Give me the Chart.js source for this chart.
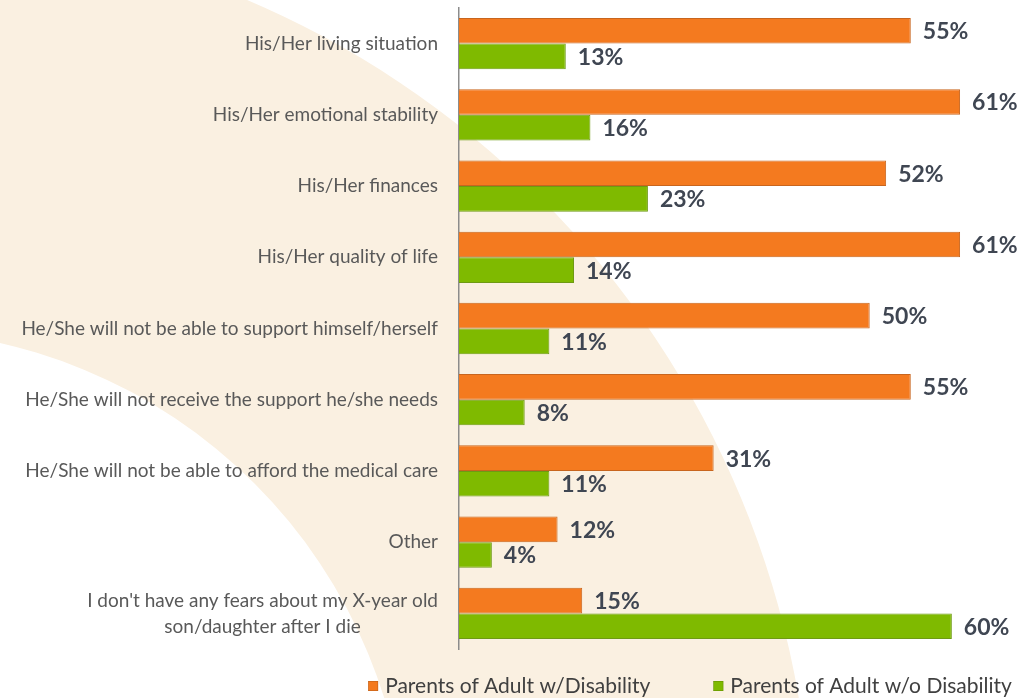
<!DOCTYPE html>
<html>
<head>
<meta charset="utf-8">
<script src="https://cdn.jsdelivr.net/npm/chart.js@4.4.0/dist/chart.umd.min.js"></script>
<style>
  html, body { margin: 0; padding: 0; background: #fff; }
  #wrap { position: relative; width: 1034px; height: 698px; }
</style>
</head>
<body>
<div id="wrap"><canvas id="chart"></canvas></div>
<script>
const categories = [
  "His/Her living situation",
  "His/Her emotional stability",
  "His/Her finances",
  "His/Her quality of life",
  "He/She will not be able to support himself/herself",
  "He/She will not receive the support he/she needs",
  "He/She will not be able to afford the medical care",
  "Other",
  ["I don't have any fears about my X-year old", "son/daughter after I die"]
];
const withDisability = [55, 61, 52, 61, 50, 55, 31, 12, 15];
const withoutDisability = [13, 16, 23, 14, 11, 8, 11, 4, 60];
const seriesNames = ["Parents of Adult w/Disability", "Parents of Adult w/o Disability"];

const ORANGE = '#F47A1F';
const GREEN = '#7FBA00';
const FONT = "Lato, 'Open Sans', sans-serif";

// cream ring in the background
const ringBackground = {
  id: 'ringBackground',
  beforeDraw(chart) {
    const ctx = chart.ctx;
    ctx.save();
    ctx.fillStyle = '#fff';
    ctx.fillRect(0, 0, chart.width, chart.height);
    ctx.fillStyle = '#FAF0E1';
    ctx.beginPath();
    ctx.arc(-116, 854, 928, 0, Math.PI * 2);
    ctx.moveTo(-116 + 524, 854);
    ctx.arc(-116, 854, 524, 0, Math.PI * 2);
    ctx.fill('evenodd');
    ctx.restore();
  }
};

// category names left of the axis
const categoryLabels = {
  id: 'categoryLabels',
  afterDraw(chart) {
    const ctx = chart.ctx;
    const y = chart.scales.y;
    ctx.save();
    ctx.font = '19px ' + FONT;
    ctx.fillStyle = '#595959';
    ctx.textBaseline = 'middle';
    ctx.textAlign = 'center';
    categories.forEach((c, i) => {
      const lines = Array.isArray(c) ? c : [c];
      const widest = Math.max(...lines.map(l => ctx.measureText(l).width));
      const cx = y.right - 21 - widest / 2;
      const cy = y.getPixelForValue(i);
      const lh = 26;
      lines.forEach((l, k) => {
        ctx.fillText(l, cx, cy + (k - (lines.length - 1) / 2) * lh);
      });
    });
    ctx.restore();
  }
};

// percentage at the end of each bar
const valueLabels = {
  id: 'valueLabels',
  afterDatasetsDraw(chart) {
    const ctx = chart.ctx;
    ctx.save();
    ctx.font = 'bold 23px ' + FONT;
    ctx.fillStyle = '#3F4652';
    ctx.textBaseline = 'middle';
    ctx.textAlign = 'left';
    chart.data.datasets.forEach((ds, di) => {
      chart.getDatasetMeta(di).data.forEach((bar, i) => {
        ctx.fillText(ds.data[i] + '%', bar.x + 12, bar.y + 1);
      });
    });
    ctx.restore();
  }
};

// legend under the plot
const bottomLegend = {
  id: 'bottomLegend',
  afterDraw(chart) {
    const ctx = chart.ctx;
    ctx.save();
    ctx.font = '21px ' + FONT;
    ctx.textBaseline = 'middle';
    const box = 10, gapText = 7, gapItem = 63;
    const items = chart.data.datasets.map(ds => ({
      name: ds.label, color: ds.backgroundColor, w: box + gapText + ctx.measureText(ds.label).width
    }));
    const total = items.reduce((s, it) => s + it.w, 0) + gapItem * (items.length - 1);
    let x = 690 - total / 2;
    const yMid = 686;
    items.forEach(it => {
      ctx.fillStyle = it.color;
      ctx.fillRect(x, yMid - box / 2, box, box);
      ctx.strokeStyle = 'rgba(0,0,0,0.25)';
      ctx.lineWidth = 0.5;
      ctx.strokeRect(x + 0.25, yMid - box / 2 + 0.25, box - 0.5, box - 0.5);
      ctx.fillStyle = '#404040';
      ctx.fillText(it.name, x + box + gapText, yMid);
      x += it.w + gapItem;
    });
    ctx.restore();
  }
};

const ctx = document.getElementById('chart').getContext('2d');
const chart = new Chart(ctx, {
  type: 'bar',
  data: {
    labels: categories,
    datasets: [
      {
        label: seriesNames[0],
        data: withDisability,
        backgroundColor: ORANGE,
        borderColor: '#C8651E',
        borderWidth: 1,
        borderSkipped: 'left'
      },
      {
        label: seriesNames[1],
        data: withoutDisability,
        backgroundColor: GREEN,
        borderColor: '#6E9A14',
        borderWidth: 1,
        borderSkipped: 'left'
      }
    ]
  },
  options: {
    indexAxis: 'y',
    responsive: true,
    maintainAspectRatio: false,
    animation: false,
    categoryPercentage: 0.72,
    barPercentage: 1,
    layout: { padding: { top: 8, bottom: 49, left: 0, right: 0 } },
    plugins: {
      legend: { display: false },
      tooltip: { enabled: false }
    },
    scales: {
      x: { display: false, min: 0, max: 70 },
      y: {
        display: true,
        ticks: { display: false },
        grid: { display: false },
        border: { display: true, color: '#8C8C8C', width: 1.5 },
        afterFit(scale) { scale.width = 459; }
      }
    }
  },
  plugins: [ringBackground, categoryLabels, valueLabels, bottomLegend]
});
</script>
</body>
</html>
